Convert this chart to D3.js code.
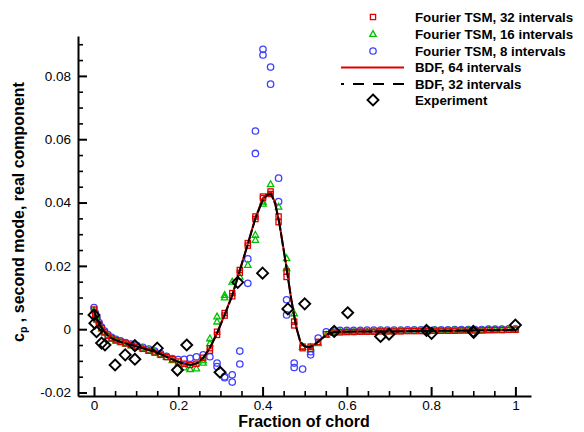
<!DOCTYPE html>
<html><head><meta charset="utf-8">
<script src="https://cdn.jsdelivr.net/npm/d3@7"></script>
<style>
body{margin:0;background:#fff}
svg{display:block}
text{font-family:"Liberation Sans",Arial,sans-serif;fill:#000}
</style>
</head><body>
<svg id="chart" width="584" height="432"></svg>
<script>
// ---------------- DATA ----------------
const xTicks = [0, 0.2, 0.4, 0.6, 0.8, 1];
const xTickLabels = ["0", "0.2", "0.4", "0.6", "0.8", "1"];
const yTicks = [-0.02, 0, 0.02, 0.04, 0.06, 0.08];
const yTickLabels = ["-0.02", "0", "0.02", "0.04", "0.06", "0.08"];

const seriesNames = ["Fourier TSM, 32 intervals", "Fourier TSM, 16 intervals", "Fourier TSM, 8 intervals",
                     "BDF, 64 intervals", "BDF, 32 intervals", "Experiment"];

// chordwise positions of the TSM solution points
const gridX = [0, 0.003, 0.007, 0.012, 0.018, 0.025, 0.033, 0.042, 0.052, 0.063,
  0.075, 0.088, 0.102, 0.116, 0.13, 0.144, 0.158, 0.172, 0.186, 0.2,
  0.214, 0.228, 0.243, 0.259, 0.275, 0.292, 0.31, 0.328, 0.346, 0.365,
  0.383, 0.401, 0.419, 0.438, 0.457, 0.475, 0.495, 0.514, 0.532, 0.551,
  0.568, 0.584, 0.6, 0.616, 0.632, 0.648, 0.664, 0.68, 0.696, 0.712,
  0.728, 0.744, 0.76, 0.776, 0.792, 0.808, 0.824, 0.84, 0.856, 0.872,
  0.888, 0.904, 0.92, 0.936, 0.952, 0.968, 0.984, 1.0];

const tsm32Y = [0.0062, 0.0046, 0.0031, 0.0016, 0.0003, -0.001, -0.0021, -0.0029, -0.0035, -0.004,
  -0.0045, -0.005, -0.0056, -0.0062, -0.0068, -0.0074, -0.0081, -0.0088, -0.0095, -0.0102,
  -0.0109, -0.0113, -0.0109, -0.009, -0.006, -0.0008, 0.0051, 0.0114, 0.0187, 0.0272,
  0.0356, 0.0419, 0.0435, 0.0356, 0.0182, 0.0024, -0.0055, -0.0055, -0.004, -0.0016,
  -0.0011, -0.001, -0.0009, -0.0009, -0.0008, -0.0008, -0.0008, -0.0007, -0.0007, -0.0007,
  -0.0007, -0.0006, -0.0006, -0.0006, -0.0006, -0.0005, -0.0005, -0.0005, -0.0005, -0.0004,
  -0.0004, -0.0004, -0.0004, -0.0003, -0.0003, -0.0003, -0.0002, -0.0002];
const tsm32PairX = [0.275, 0.292, 0.31, 0.328, 0.346, 0.365, 0.383, 0.401, 0.419, 0.438, 0.457, 0.475, 0.495, 0.514];
const tsm32PairY = [-0.0068, -0.0018, 0.0043, 0.0104, 0.0178, 0.0264, 0.0348, 0.0414, 0.0427, 0.0338, 0.0165, 0.0012, -0.006, -0.0062];

const tsm16Y = [0.006, 0.0045, 0.003, 0.0015, 0.0002, -0.001, -0.0021, -0.003, -0.0036, -0.0041,
  -0.0046, -0.0051, -0.0056, -0.0061, -0.0067, -0.0073, -0.008, -0.0088, -0.0098, -0.0108,
  -0.0121, -0.0126, -0.0124, -0.0098, -0.0029, 0.004, 0.0108, 0.015, 0.0166, 0.0203,
  0.0298, 0.0403, 0.0458, 0.0387, 0.0224, 0.005, -0.0055, -0.0057, -0.0044, -0.0018,
  -0.0009, -0.0008, -0.0008, -0.0007, -0.0007, -0.0007, -0.0006, -0.0006, -0.0006, -0.0006,
  -0.0005, -0.0005, -0.0005, -0.0005, -0.0005, -0.0004, -0.0004, -0.0004, -0.0004, -0.0004,
  -0.0003, -0.0003, -0.0003, -0.0003, -0.0002, -0.0002, -0.0002, -0.0001];
const tsm16PairX = [0.259, 0.275, 0.292, 0.31, 0.383, 0.401, 0.457];
const tsm16PairY = [-0.0106, -0.0045, 0.0024, 0.01, 0.0282, 0.0396, 0.0193];

const tsm8Y = [0.0068, 0.0052, 0.0036, 0.0021, 0.0007, -0.0006, -0.0017, -0.0026, -0.0032, -0.0037,
  -0.0042, -0.0047, -0.0052, -0.0057, -0.0063, -0.0069, -0.0077, -0.0086, -0.0093, -0.0096,
  -0.0095, -0.0092, -0.0087, -0.0081, -0.0087, -0.0107, -0.015, -0.0144, -0.0069, 0.0222,
  0.0626, 0.0884, 0.0828, 0.0477, 0.0093, -0.0107, -0.0126, -0.0071, -0.0028, -0.0008,
  -0.0005, -0.0004, -0.0004, -0.0004, -0.0004, -0.0003, -0.0003, -0.0003, -0.0003, -0.0003,
  -0.0003, -0.0002, -0.0002, -0.0002, -0.0002, -0.0002, -0.0002, -0.0002, -0.0001, -0.0001,
  -0.0001, -0.0001, -0.0001, 0, 0, 0, 0.0001, 0.0001];
const tsm8PairX = [0.292, 0.31, 0.328, 0.346, 0.365, 0.383, 0.401, 0.419, 0.438, 0.457, 0.475, 0.514];
const tsm8PairY = [-0.0118, -0.0153, -0.0167, -0.011, 0.0145, 0.0555, 0.0866, 0.0774, 0.0403, 0.0045, -0.0121, -0.0081];

const bdfX = [0, 0.003, 0.007, 0.012, 0.018, 0.025, 0.033, 0.042, 0.052, 0.065,
  0.08, 0.1, 0.12, 0.14, 0.16, 0.18, 0.2, 0.215, 0.23, 0.245,
  0.26, 0.275, 0.292, 0.31, 0.328, 0.346, 0.365, 0.383, 0.401, 0.412,
  0.42, 0.43, 0.44, 0.455, 0.468, 0.48, 0.49, 0.5, 0.512, 0.525,
  0.54, 0.555, 0.57, 0.6, 0.65, 0.7, 0.75, 0.8, 0.85, 0.9,
  0.95, 1.0];
const bdf64Y = [0.0062, 0.0047, 0.0032, 0.0018, 0.0005, -0.0008, -0.002, -0.0029, -0.0035, -0.0041,
  -0.0047, -0.0054, -0.0062, -0.007, -0.008, -0.0092, -0.0103, -0.011, -0.0113, -0.0108,
  -0.009, -0.006, -0.0012, 0.0047, 0.0108, 0.0187, 0.027, 0.0352, 0.0414, 0.0428,
  0.0431, 0.0398, 0.0335, 0.021, 0.0095, 0.0005, -0.0042, -0.0055, -0.0058, -0.0047,
  -0.003, -0.0015, -0.0009, -0.0008, -0.0007, -0.0007, -0.0006, -0.0005, -0.0005, -0.0004,
  -0.0003, -0.0002];
const bdf32Y = [0.006, 0.0046, 0.0031, 0.0017, 0.0004, -0.0009, -0.002, -0.0029, -0.0035, -0.0041,
  -0.0047, -0.0054, -0.0062, -0.007, -0.008, -0.0092, -0.0103, -0.011, -0.0112, -0.0107,
  -0.0089, -0.0059, -0.0013, 0.0045, 0.0106, 0.0185, 0.0268, 0.035, 0.041, 0.0424,
  0.0427, 0.0396, 0.0333, 0.0209, 0.0095, 0.0006, -0.0041, -0.0054, -0.0057, -0.0047,
  -0.003, -0.0015, -0.0009, -0.0008, -0.0007, -0.0007, -0.0006, -0.0005, -0.0005, -0.0004,
  -0.0003, -0.0002];

const expX = [0, 0.002, 0.006, 0.018, 0.026, 0.05, 0.074, 0.097, 0.097, 0.15,
  0.198, 0.22, 0.299, 0.341, 0.4, 0.46, 0.5, 0.57, 0.602, 0.68,
  0.7, 0.789, 0.801, 0.9, 0.901, 1.0];
const expY = [0.0045, 0.0019, -0.0008, -0.0044, -0.005, -0.0113, -0.0081, -0.0052, -0.0095, -0.006,
  -0.0129, -0.005, -0.0136, 0.0148, 0.0177, 0.0064, 0.008, -0.0007, 0.0052, -0.0023,
  -0.0016, -0.0004, -0.0013, -0.0007, -0.001, 0.0013];

// ---------------- STYLE ----------------
const RED = "#e00000", GREEN = "#00c000", BLUE = "#3f3fff";
const FONT = '"Liberation Sans",Arial,sans-serif';

const svg = d3.select("#chart");
const x = d3.scaleLinear().domain([-0.038, 1.037]).range([78, 531]);
const y = d3.scaleLinear().domain([-0.0211, 0.0926]).range([396, 36]);

const zip = (xs, ys) => xs.map((v, i) => [v, ys[i]]);

// ---------------- AXES ----------------
const minorX = d3.range(0, 1.0001, 0.05).filter(v => Math.abs(v / 0.2 - Math.round(v / 0.2)) > 1e-6);
const minorY = d3.range(-0.02, 0.0926, 0.005).filter(v => Math.abs(v / 0.02 - Math.round(v / 0.02)) > 1e-6);

const gx = svg.append("g").attr("transform", "translate(0,396)");
gx.call(d3.axisBottom(x).tickValues(xTicks).tickFormat((d, i) => xTickLabels[i])
  .tickSizeInner(-9).tickSizeOuter(0).tickPadding(4));
gx.selectAll(".tick line").attr("stroke-width", 2);
const gxm = svg.append("g").attr("transform", "translate(0,396)");
gxm.call(d3.axisBottom(x).tickValues(minorX).tickFormat("").tickSizeInner(-5).tickSizeOuter(0));
gxm.select(".domain").remove();
gxm.selectAll(".tick line").attr("stroke-width", 1.6);

const gy = svg.append("g").attr("transform", "translate(78,0)");
gy.call(d3.axisLeft(y).tickValues(yTicks).tickFormat((d, i) => yTickLabels[i])
  .tickSizeInner(-9).tickSizeOuter(0).tickPadding(7));
gy.selectAll(".tick line").attr("stroke-width", 2);
const gym = svg.append("g").attr("transform", "translate(78,0)");
gym.call(d3.axisLeft(y).tickValues(minorY).tickFormat("").tickSizeInner(-5).tickSizeOuter(0));
gym.select(".domain").remove();
gym.selectAll(".tick line").attr("stroke-width", 1.6);

[gx, gy].forEach(g => {
  g.select(".domain").attr("stroke-width", 2);
  g.selectAll(".tick text").attr("font-size", 13.5).attr("font-family", FONT).attr("fill", "#000");
});

svg.append("text").attr("x", 304).attr("y", 427).attr("text-anchor", "middle")
  .attr("font-size", 16).attr("font-weight", "bold").text("Fraction of chord");

const yt = svg.append("text").attr("transform", "translate(24,212) rotate(-90)")
  .attr("text-anchor", "middle").attr("font-size", 16).attr("font-weight", "bold");
yt.append("tspan").text("c");
yt.append("tspan").attr("font-size", 10.5).attr("dy", 3).text("p");
yt.append("tspan").attr("dy", -3).text(" , second mode, real component");

// ---------------- MARKERS ----------------
const plot = svg.append("g");

function circles(pts) {
  plot.append("g").selectAll("circle").data(pts).join("circle")
    .attr("cx", d => x(d[0])).attr("cy", d => y(d[1])).attr("r", 3.2)
    .attr("fill", "none").attr("stroke", BLUE).attr("stroke-width", 1.3);
}
function triangles(pts) {
  plot.append("g").selectAll("path").data(pts).join("path")
    .attr("d", d => { const cx = x(d[0]), cy = y(d[1]);
      return `M${cx},${cy - 3.4}L${cx + 3.2},${cy + 2.4}L${cx - 3.2},${cy + 2.4}Z`; })
    .attr("fill", "none").attr("stroke", GREEN).attr("stroke-width", 1.3);
}
function squares(pts) {
  plot.append("g").selectAll("rect").data(pts).join("rect")
    .attr("x", d => x(d[0]) - 2.6).attr("y", d => y(d[1]) - 2.6).attr("width", 5.2).attr("height", 5.2)
    .attr("fill", "none").attr("stroke", RED).attr("stroke-width", 1.3);
}
function diamonds(pts) {
  plot.append("g").selectAll("path").data(pts).join("path")
    .attr("d", d => { const cx = x(d[0]), cy = y(d[1]), h = 5.5;
      return `M${cx},${cy - h}L${cx + h},${cy}L${cx},${cy + h}L${cx - h},${cy}Z`; })
    .attr("fill", "none").attr("stroke", "#000").attr("stroke-width", 1.9);
}

circles(zip(gridX, tsm8Y).concat(zip(tsm8PairX, tsm8PairY)));
triangles(zip(gridX, tsm16Y).concat(zip(tsm16PairX, tsm16PairY)));
squares(zip(gridX, tsm32Y).concat(zip(tsm32PairX, tsm32PairY)));

const line = d3.line().x(d => x(d[0])).y(d => y(d[1]));
plot.append("path").datum(zip(bdfX, bdf64Y)).attr("d", line)
  .attr("fill", "none").attr("stroke", RED).attr("stroke-width", 2);
plot.append("path").datum(zip(bdfX, bdf32Y)).attr("d", line)
  .attr("fill", "none").attr("stroke", "#000").attr("stroke-width", 2).attr("stroke-dasharray", "14,2");

diamonds(zip(expX, expY));

// ---------------- LEGEND ----------------
const legRowsY = [17, 34, 51, 67.5, 84, 100];
const lg = svg.append("g");
const mx = 373;
lg.append("rect").attr("x", mx - 2.6).attr("y", legRowsY[0] - 2.6).attr("width", 5.2).attr("height", 5.2)
  .attr("fill", "none").attr("stroke", RED).attr("stroke-width", 1.3);
lg.append("path").attr("d", `M${mx},${legRowsY[1] - 3.4}L${mx + 3.2},${legRowsY[1] + 2.4}L${mx - 3.2},${legRowsY[1] + 2.4}Z`)
  .attr("fill", "none").attr("stroke", GREEN).attr("stroke-width", 1.3);
lg.append("circle").attr("cx", mx).attr("cy", legRowsY[2]).attr("r", 3.2)
  .attr("fill", "none").attr("stroke", BLUE).attr("stroke-width", 1.3);
lg.append("line").attr("x1", 341).attr("x2", 404).attr("y1", legRowsY[3]).attr("y2", legRowsY[3])
  .attr("stroke", RED).attr("stroke-width", 2);
lg.append("line").attr("x1", 404).attr("x2", 341).attr("y1", legRowsY[4]).attr("y2", legRowsY[4])
  .attr("stroke", "#000").attr("stroke-width", 2).attr("stroke-dasharray", "11,9");
lg.append("path").attr("d", `M${mx},${legRowsY[5] - 5.5}L${mx + 5.5},${legRowsY[5]}L${mx},${legRowsY[5] + 5.5}L${mx - 5.5},${legRowsY[5]}Z`)
  .attr("fill", "none").attr("stroke", "#000").attr("stroke-width", 1.9);
lg.selectAll("text.leg").data(seriesNames).join("text").attr("class", "leg")
  .attr("x", 415).attr("y", (d, i) => legRowsY[i] + 4.6)
  .attr("font-size", 13.3).attr("font-weight", "bold").text(d => d);
</script>
</body></html>
